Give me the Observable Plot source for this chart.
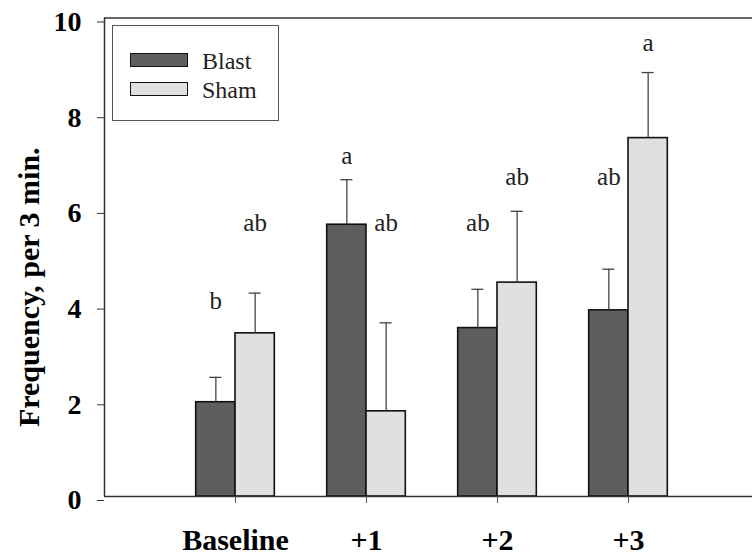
<!DOCTYPE html>
<html><head><meta charset="utf-8">
<script src="https://cdn.jsdelivr.net/npm/d3@7"></script>
<script src="https://cdn.jsdelivr.net/npm/@observablehq/plot@0.6"></script>
<style>
body{margin:0;background:#fff;}
#wrap{position:relative;width:752px;height:556px;font-family:"Liberation Serif","Times New Roman",serif;overflow:hidden;}
#wrap svg{display:block;}
.legend{position:absolute;left:112px;top:25px;width:167px;height:96px;border:1px solid #555;box-sizing:border-box;background:#fff;}
.sw{position:absolute;left:17px;width:58px;height:14px;border:1.5px solid #111;box-sizing:border-box;}
.lt{position:absolute;left:89px;font-family:"Liberation Serif","Times New Roman",serif;font-size:24px;line-height:1;color:#222;white-space:nowrap;}
</style></head><body><div id="wrap"></div>
<script>
const categories = ["Baseline", "+1", "+2", "+3"];
const series = ["Blast", "Sham"];
const seriesColors = ["#5e5e5e", "#e0e0e0"];
const blastValues = [1.97, 5.68, 3.52, 3.89];
const shamValues = [3.41, 1.78, 4.47, 7.49];
const blastErr = [0.52, 0.94, 0.81, 0.86];
const shamErr = [0.84, 1.85, 1.49, 1.37];
const blastLetters = ["b", "a", "ab", "ab"];
const shamLetters = ["ab", "ab", "ab", "a"];
const blastLetterY = [3.92, 6.95, 5.55, 6.50];
const shamLetterY = [5.55, 5.55, 6.50, 9.32];
const yTicks = [0, 2, 4, 6, 8, 10];
const yLabel = "Frequency, per 3 min.";

const serif = "'Liberation Serif', 'Times New Roman', serif";
const barW = 0.3;
const rows = [];
categories.forEach((c, i) => {
  const pos = i + 1;
  rows.push({cat: c, series: "Blast", value: blastValues[i], err: blastErr[i], letter: blastLetters[i], letterY: blastLetterY[i], x1: pos - barW, x2: pos, xc: pos - barW / 2});
  rows.push({cat: c, series: "Sham", value: shamValues[i], err: shamErr[i], letter: shamLetters[i], letterY: shamLetterY[i], x1: pos, x2: pos + barW, xc: pos + barW / 2});
});
const capHalf = 0.046;

const chart = Plot.plot({
  width: 752, height: 556,
  marginLeft: 104, marginRight: 0, marginTop: 17.5, marginBottom: 60,
  style: {fontFamily: serif, color: "#000", background: "transparent"},
  x: {type: "linear", domain: [0, 5], range: [104, 759]},
  y: {domain: [0, 10], range: [496, 17.5]},
  color: {domain: series, range: seriesColors},
  marks: [
    Plot.rectY(rows, {x1: "x1", x2: "x2", y1: 0, y2: "value", fill: "series", stroke: "#111", strokeWidth: 1.6}),
    Plot.ruleX(rows, {x: "xc", y1: "value", y2: d => d.value + d.err, stroke: "#444", strokeWidth: 1.3}),
    Plot.ruleY(rows, {y: d => d.value + d.err, x1: d => d.xc - capHalf, x2: d => d.xc + capHalf, stroke: "#444", strokeWidth: 1.3}),
    Plot.ruleY([0, 10], {stroke: "#333", strokeWidth: 1.5}),
    Plot.ruleX([0], {stroke: "#333", strokeWidth: 1.5}),
    Plot.axisY({ticks: yTicks, tickSize: 7, tickPadding: 16, fontSize: 28, fontWeight: "bold", fontFamily: serif, dy: 4, label: null, stroke: "#333", fill: "#000"}),
    Plot.axisX({ticks: [1, 2, 3, 4], tickFormat: d => categories[d - 1], tickSize: 7, tickPadding: 25, fontSize: 30, fontWeight: "bold", fontFamily: serif, label: null, stroke: "#555", fill: "#000"}),
    Plot.text([yLabel], {text: d => d, frameAnchor: "left", textAnchor: "middle", rotate: -90, dx: -75, dy: 30, fontSize: 30, fontWeight: "bold", fontFamily: serif, fill: "#000"}),
    Plot.text(rows, {x: "xc", y: "letterY", text: "letter", lineAnchor: "bottom", fontSize: 25, fontFamily: serif, fill: "#222"})
  ]
});
const wrap = document.getElementById("wrap");
wrap.appendChild(chart);

const legend = document.createElement("div");
legend.className = "legend";
series.forEach((s, i) => {
  const sw = document.createElement("div");
  sw.className = "sw";
  sw.style.top = (26.7 + i * 29) + "px";
  sw.style.background = seriesColors[i];
  legend.appendChild(sw);
  const t = document.createElement("div");
  t.className = "lt";
  t.style.top = (22.8 + i * 29) + "px";
  t.textContent = s;
  legend.appendChild(t);
});
wrap.appendChild(legend);
</script>
</body></html>
